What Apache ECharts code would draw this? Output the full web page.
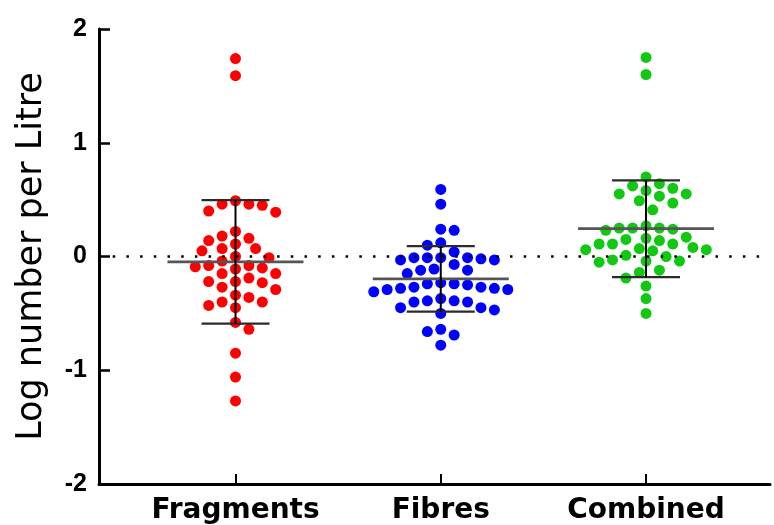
<!DOCTYPE html>
<html>
<head>
<meta charset="utf-8">
<script src="https://cdn.jsdelivr.net/npm/echarts@6/dist/echarts.min.js"></script>
<style>
  html, body { margin: 0; padding: 0; background: #ffffff; }
  #chart { width: 774px; height: 525px; }
</style>
</head>
<body>
<div id="chart"></div>
<script>
// Group names and where each group sits on the x scale
const categories = ['Fragments', 'Fibres', 'Combined'];
const categoryPositions = [1, 2, 3];

// Log number per litre, one value per sample
const fragments = [
  1.74, 1.59,
  0.49, 0.46, 0.40, 0.39, 0.45, 0.46,
  0.22, 0.18, 0.11, 0.14, 0.16, 0.07, 0.05, 0.07, 0.00, -0.01,
  -0.08, -0.08, -0.04, -0.11, -0.10, -0.09,
  -0.19, -0.22, -0.15, -0.15, -0.27, -0.29, -0.23, -0.22,
  -0.36, -0.40, -0.40, -0.34, -0.45, -0.43, -0.58, -0.64,
  -0.85, -1.06, -1.27
];
const fibres = [
  0.59, 0.46, 0.24, 0.23, 0.12, 0.10,
  0.04, -0.01, -0.01, -0.03, -0.07, -0.03, -0.02, -0.01, -0.01,
  -0.12, -0.11, -0.15, -0.12,
  -0.27, -0.28, -0.29, -0.23, -0.31, -0.24, -0.24, -0.29, -0.28, -0.27, -0.25,
  -0.37,
  -0.39, -0.40, -0.45, -0.50, -0.47, -0.45, -0.40, -0.39,
  -0.64, -0.69, -0.66, -0.78
];
const combined = [
  1.75, 1.60,
  0.70, 0.62, 0.58, 0.55, 0.60, 0.64, 0.55, 0.53, 0.49, 0.47, 0.41,
  0.25, 0.23, 0.25, 0.25, 0.27, 0.24,
  0.11, 0.08, 0.06, 0.16, 0.05, 0.14, 0.06, 0.15, 0.07, 0.17, 0.11, 0.11,
  -0.03, -0.04, 0.01, -0.05, -0.04, 0.00,
  -0.12, -0.14, -0.19, -0.26, -0.37, -0.50
];
const groups = [fragments, fibres, combined];
const groupColors = ['#ff0000', '#0000ff', '#12c812'];

// Y axis tick values
const yTicks = [-2, -1, 0, 1, 2];

function mean(a) { return a.reduce((s, v) => s + v, 0) / a.length; }
function sd(a) {
  const m = mean(a);
  return Math.sqrt(a.reduce((s, v) => s + (v - m) * (v - m), 0) / (a.length - 1));
}

const chart = echarts.init(document.getElementById('chart'), null, { renderer: 'canvas' });

const baseOption = {
  animation: false,
  backgroundColor: '#ffffff',
  grid: { left: 99, right: 4, top: 29, bottom: 41, containLabel: false },
  xAxis: {
    type: 'value',
    min: 0.335,
    max: 3.604,
    splitLine: { show: false },
    axisLine: { show: true, onZero: false, lineStyle: { color: '#000', width: 3 } },
    axisTick: {
      show: true, inside: true, length: 10,
      customValues: categoryPositions,
      lineStyle: { color: '#000', width: 2 }
    },
    axisLabel: {
      show: true,
      customValues: categoryPositions,
      margin: 13,
      formatter: v => categories[categoryPositions.indexOf(Math.round(v))] || '',
      color: '#000',
      fontFamily: 'DejaVu Sans',
      fontWeight: 'bold',
      fontSize: 28
    }
  },
  yAxis: {
    type: 'value',
    min: yTicks[0],
    max: yTicks[yTicks.length - 1],
    interval: 1,
    name: 'Log number per Litre',
    nameLocation: 'middle',
    nameGap: 50,
    nameTextStyle: { color: '#000', fontFamily: 'DejaVu Sans', fontSize: 35 },
    splitLine: { show: false },
    axisLine: { show: true, onZero: false, lineStyle: { color: '#000', width: 3 } },
    axisTick: { show: true, inside: true, length: 11, lineStyle: { color: '#000', width: 2.5 } },
    axisLabel: {
      margin: 12,
      color: '#000',
      fontFamily: 'Liberation Sans',
      fontWeight: 'bold',
      fontSize: 25
    }
  },
  series: []
};

chart.setOption(baseOption);

// Spread each group's points sideways so they do not overlap (beeswarm),
// working in pixels and converting back through the axes.
function swarmOffsets(values) {
  const step = 6.7, minDist = 11.8;
  const ys = values.map(v => chart.convertToPixel({ yAxisIndex: 0 }, v));
  const order = values.map((v, i) => i).sort((a, b) => values[b] - values[a]);
  const placed = [];
  const dx = new Array(values.length).fill(0);
  let side = 1;
  order.forEach(i => {
    for (let k = 0; k < 200; k++) {
      const cands = k === 0 ? [0] : [side * k * step, -side * k * step];
      let hit = null;
      for (const c of cands) {
        if (placed.every(p => Math.hypot(p.x - c, p.y - ys[i]) >= minDist)) { hit = c; break; }
      }
      if (hit !== null) {
        dx[i] = hit;
        placed.push({ x: hit, y: ys[i] });
        if (hit !== 0) side = hit > 0 ? -1 : 1;
        break;
      }
    }
  });
  return dx;
}

const scatterSeries = groups.map((vals, g) => {
  const cx = chart.convertToPixel({ xAxisIndex: 0 }, categoryPositions[g]);
  const offs = swarmOffsets(vals);
  return {
    type: 'scatter',
    name: categories[g],
    z: 3,
    symbol: 'circle',
    symbolSize: 11,
    itemStyle: { color: groupColors[g], opacity: 1 },
    data: vals.map((v, i) => [chart.convertFromPixel({ xAxisIndex: 0 }, cx + offs[i]), v])
  };
});

// Mean with standard deviation for each group
const statsData = groups.map((vals, g) => [categoryPositions[g], mean(vals), sd(vals)]);

const errorSeries = {
  type: 'custom',
  name: 'Mean ± SD',
  z: 5,
  data: statsData,
  renderItem: (params, api) => {
    const x = api.value(0), m = api.value(1), s = api.value(2);
    const c = api.coord([x, m]);
    const t = api.coord([x, m + s]);
    const b = api.coord([x, m - s]);
    const st = { stroke: '#2b2b2b', lineWidth: 2.2 };
    return {
      type: 'group',
      children: [
        { type: 'line', shape: { x1: c[0] - 68, y1: c[1], x2: c[0] + 68, y2: c[1] }, style: { stroke: '#555', lineWidth: 2.6 } },
        { type: 'line', shape: { x1: t[0] - 34, y1: t[1], x2: t[0] + 34, y2: t[1] }, style: st },
        { type: 'line', shape: { x1: b[0] - 34, y1: b[1], x2: b[0] + 34, y2: b[1] }, style: st },
        { type: 'line', shape: { x1: t[0], y1: t[1], x2: b[0], y2: b[1] }, style: { stroke: '#000', lineWidth: 2 } }
      ]
    };
  }
};

// Dotted reference line at zero
const zeroLine = {
  type: 'scatter',
  name: 'zero',
  z: 1,
  data: [],
  markLine: {
    silent: true,
    symbol: ['none', 'none'],
    label: { show: false },
    lineStyle: { color: '#000', width: 2.5, type: [2.5, 11.2] },
    data: [{ yAxis: 0 }]
  }
};

chart.setOption({ series: [zeroLine].concat(scatterSeries, [errorSeries]) });
</script>
</body>
</html>
